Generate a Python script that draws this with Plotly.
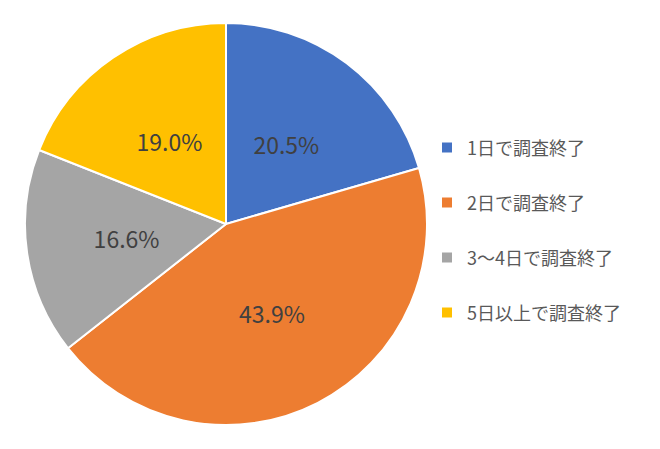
import plotly.graph_objects as go

# データ
labels = ["1日で調査終了", "2日で調査終了", "3～4日で調査終了", "5日以上で調査終了"]
values = [20.5, 43.9, 16.6, 19.0]
colors = ["#4472C4", "#ED7D31", "#A5A5A5", "#FFC000"]

FONT = "Noto Sans CJK JP"
W, H = 660, 449
OFF = 8  # ページ余白の分

# 円の中心と半径 (px)
CX, CY, R = 226 - OFF, 224 - OFF, 201
HOLE = 0.4
R2 = R / (1 + HOLE)  # ラベル用の透明リング -> ラベルが半径の半分の位置にくる


def dom(r):
    return dict(x=[(CX - r) / W, (CX + r) / W],
                y=[1 - (CY + r) / H, 1 - (CY - r) / H])


fig = go.Figure()
fig.add_trace(go.Pie(
    labels=["<span style='font-size:18px'>" + l + "</span><br>" for l in labels],
    values=values,
    sort=False,
    direction="clockwise",
    rotation=0,
    marker=dict(colors=colors, line=dict(color="white", width=2)),
    textinfo="none",
    domain=dom(R),
    hoverinfo="percent",
))
# パーセント表示 (透明リング)
fig.add_trace(go.Pie(
    labels=labels,
    values=values,
    sort=False,
    direction="clockwise",
    rotation=0,
    hole=HOLE,
    marker=dict(colors=["rgba(0,0,0,0)"] * 4, line=dict(width=0)),
    texttemplate="%{value:.1f}%",
    textposition="inside",
    insidetextorientation="horizontal",
    textfont=dict(family=FONT, size=23, color="#404040"),
    domain=dom(R2),
    showlegend=False,
    hoverinfo="skip",
))

fig.update_layout(
    width=W, height=H,
    margin=dict(l=0, r=0, t=0, b=0),
    paper_bgcolor="white",
    font=dict(family=FONT),
    uniformtext=dict(minsize=23, mode="show"),
    legend=dict(
        x=(427 - OFF) / W, y=1 - (243 - OFF) / H, xanchor="left", yanchor="middle",
        font=dict(family=FONT, size=20, color="#595959"),
        valign="top",
        itemwidth=30,
    ),
)

fig.write_html("out.html")
